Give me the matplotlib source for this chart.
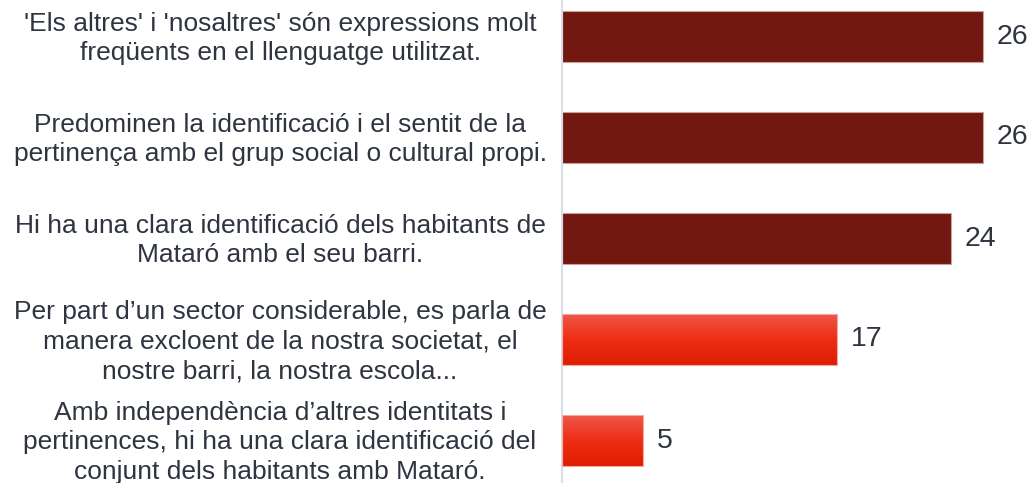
import matplotlib
matplotlib.use("Agg")
import matplotlib.pyplot as plt
import numpy as np
from matplotlib.colors import LinearSegmentedColormap

labels = [
    "'Els altres' i 'nosaltres' són expressions molt\nfreqüents en el llenguatge utilitzat.",
    "Predominen la identificació i el sentit de la\npertinença amb el grup social o cultural propi.",
    "Hi ha una clara identificació dels habitants de\nMataró amb el seu barri.",
    "Per part d’un sector considerable, es parla de\nmanera excloent de la nostra societat, el\nnostre barri, la nostra escola...",
    "Amb independència d’altres identitats i\npertinences, hi ha una clara identificació del\nconjunt dels habitants amb Mataró.",
]
values = [26, 26, 24, 17, 5]
dark_flags = [True, True, True, False, False]

plt.rcParams['font.family'] = ['Liberation Sans', 'DejaVu Sans']

W, H = 1031, 483
fig = plt.figure(figsize=(W / 100, H / 100), dpi=100)
left_px = 562
ax = fig.add_axes([left_px / W, 0, 1 - left_px / W, 1])

px_per_unit = (983 - 562) / 26.0
top_center = 36.5
spacing = 101.0

bar_h = 0.5
y = np.arange(len(values))
dark = '#731810'
text_color = '#2e3440'
grad_cmap = LinearSegmentedColormap.from_list('g', ['#ee5649', '#ee2d14', '#df1d00'])
grad = np.linspace(0, 1, 100).reshape(-1, 1)

for yi, v, d in zip(y, values, dark_flags):
    if d:
        ax.barh(yi, v, height=bar_h, color=dark, edgecolor='#c9a19c', linewidth=0.8, zorder=2)
    else:
        b = ax.barh(yi, v, height=bar_h, color='none', edgecolor='#f5a7a0', linewidth=0.8, zorder=3)[0]
        im = ax.imshow(grad, cmap=grad_cmap, aspect='auto', origin='upper',
                       extent=(0, v, yi + bar_h / 2, yi - bar_h / 2), zorder=2)
        im.set_clip_path(b)
    ax.text(v + 14 / px_per_unit, yi, str(v), ha='left', va='center',
            fontsize=20.5, color=text_color)

ax.set_xlim(0, (W - left_px) / px_per_unit)
ax.set_ylim((H - top_center) / spacing, -top_center / spacing)

label_center_px = 280
for yi, lab in zip(y, labels):
    ax.text((label_center_px - left_px) / px_per_unit, yi + 2 / spacing, lab,
            ha='center', va='center', multialignment='center',
            fontsize=19, color=text_color, linespacing=1.3)

for s in ['top', 'right', 'bottom']:
    ax.spines[s].set_visible(False)
ax.spines['left'].set_color('#d9dee7')
ax.spines['left'].set_linewidth(1.5)
ax.set_xticks([])
ax.set_yticks([])
ax.patch.set_alpha(0)

fig.savefig('out.png', dpi=100)
